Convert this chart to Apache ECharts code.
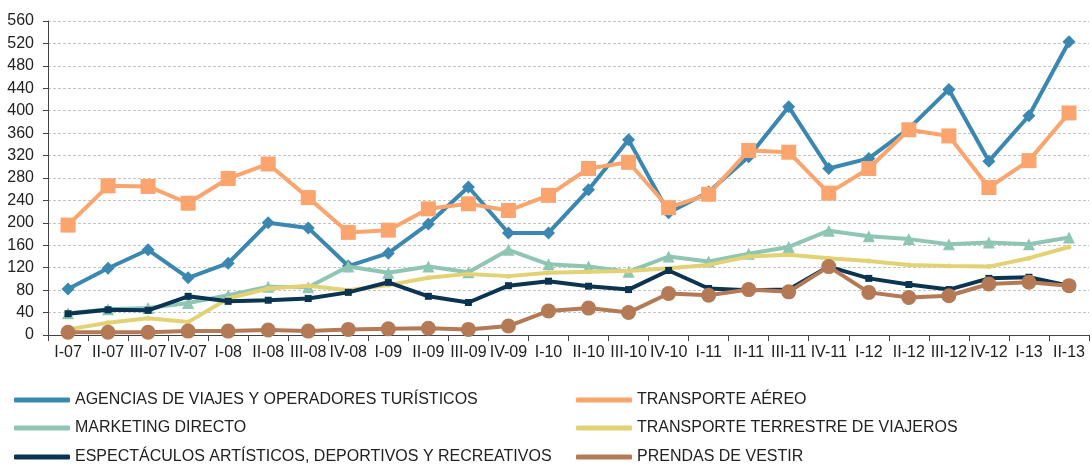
<!DOCTYPE html>
<html>
<head>
<meta charset="utf-8">
<script src="https://cdn.jsdelivr.net/npm/echarts@6/dist/echarts.min.js"></script>
<style>
html,body{margin:0;padding:0;background:#fff;}
#chart{width:1092px;height:465px;}
</style>
</head>
<body>
<div id="chart"></div>
<script>
var categories = ['I-07','II-07','III-07','IV-07','I-08','II-08','III-08','IV-08','I-09','II-09','III-09','IV-09','I-10','II-10','III-10','IV-10','I-11','II-11','III-11','IV-11','I-12','II-12','III-12','IV-12','I-13','II-13'];

var agencias = [82,119,152,102,128,200,191,123,146,198,264,182,182,259,348,218,255,318,407,297,315,368,438,310,391,523];
var aereo = [196,266,265,235,279,305,245,183,187,225,234,222,249,297,308,227,251,329,326,253,297,366,355,263,311,396];
var marketing = [39,46,48,57,71,86,85,122,111,122,112,152,126,122,113,140,131,145,157,186,176,171,162,165,162,174];
var terrestre = [10,22,30,23,65,83,88,80,89,102,109,105,111,113,114,119,125,140,143,137,132,125,123,122,137,157];
var espectaculos = [38,45,44,69,60,62,65,76,94,69,58,88,96,87,81,115,83,80,81,122,101,90,81,101,103,88];
var prendas = [5,5,5,7,7,9,7,10,11,12,10,16,43,48,40,74,71,81,77,122,76,67,70,91,94,88];

var yTicks = [0,40,80,120,160,200,240,280,320,360,400,440,480,520,560];

var names = ['AGENCIAS DE VIAJES Y OPERADORES TURÍSTICOS','TRANSPORTE AÉREO','MARKETING DIRECTO','TRANSPORTE TERRESTRE DE VIAJEROS','ESPECTÁCULOS ARTÍSTICOS, DEPORTIVOS Y RECREATIVOS','PRENDAS DE VESTIR'];
var colors = ['#3A88B2','#FCA46E','#8EC5B3','#E3D274','#0B3452','#B47A55'];
var symbols = ['diamond','rect','triangle','circle','rect','circle'];
var sizes = [13,15,12,5,7,15];
var datas = [agencias,aereo,marketing,terrestre,espectaculos,prendas];

var series = [];
for (var i = 0; i < names.length; i++) {
	series.push({
		name: names[i],
		type: 'line',
		data: datas[i],
		symbol: symbols[i],
		symbolSize: sizes[i],
		showAllSymbol: true,
		itemStyle: {color: colors[i]},
		lineStyle: {width: 4, color: colors[i]},
		z: 2 + i
	});
}

var legends = [];
var legendPos = [[14,391],[576,391],[14,419],[576,419],[14,448],[576,448]];
for (var j = 0; j < names.length; j++) {
	legends.push({
		left: legendPos[j][0],
		top: legendPos[j][1],
		padding: 0,
		data: [{name: names[j], icon: 'roundRect'}],
		itemWidth: 56,
		itemHeight: 5,
		itemGap: 4,
		textStyle: {fontFamily: 'Liberation Sans', fontSize: 16, color: '#222', lineHeight: 18}
	});
}

var myChart = echarts.init(document.getElementById('chart'));
myChart.setOption({
	animation: false,
	grid: {left: 48, right: 3, top: 21, bottom: 130, containLabel: false},
	legend: legends,
	xAxis: {
		type: 'category',
		data: categories,
		boundaryGap: true,
		axisLine: {lineStyle: {color: '#444', width: 1}},
		axisTick: {show: true, alignWithLabel: false, length: 6, lineStyle: {color: '#444'}},
		axisLabel: {fontFamily: 'Liberation Sans', fontSize: 16, color: '#222', interval: 0, margin: 10}
	},
	yAxis: {
		type: 'value',
		min: 0,
		max: 560,
		interval: 40,
		axisLine: {show: true, lineStyle: {color: '#444', width: 1}},
		axisTick: {show: true, length: 5, lineStyle: {color: '#444'}},
		axisLabel: {fontFamily: 'Liberation Sans', fontSize: 16, color: '#222', margin: 14,
			formatter: function (v) { return yTicks.indexOf(v) >= 0 ? String(v) : ''; }},
		splitLine: {lineStyle: {color: '#c4c4c4', type: [3,2], width: 1}}
	},
	series: series
});
window.onresize = myChart.resize;
</script>
</body>
</html>
